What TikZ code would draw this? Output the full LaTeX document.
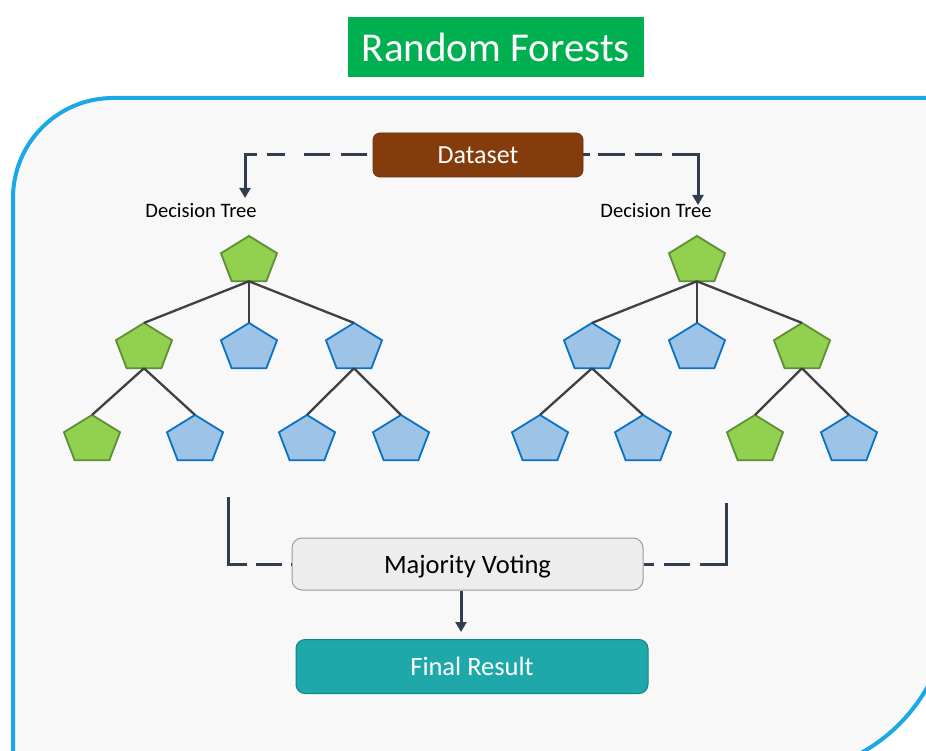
\documentclass[tikz,border=0pt]{standalone}
\usepackage{fontspec}
\setmainfont{Carlito}
\usetikzlibrary{shapes.geometric, arrows.meta}

\definecolor{framecyan}{HTML}{1BA8E6}
\definecolor{panelbg}{HTML}{F8F8F8}
\definecolor{titlegreen}{HTML}{00B050}
\definecolor{databrown}{HTML}{843C0C}
\definecolor{flowline}{HTML}{323E4F}
\definecolor{votefill}{HTML}{EDEDED}
\definecolor{voteline}{HTML}{9A9A9A}
\definecolor{resultteal}{HTML}{1FA8A9}
\definecolor{resultline}{HTML}{178586}
\definecolor{leafgreen}{HTML}{92D050}
\definecolor{leafgreenline}{HTML}{5E8F34}
\definecolor{leafblue}{HTML}{9DC3E6}
\definecolor{leafblueline}{HTML}{0A72C2}
\definecolor{branch}{HTML}{404040}

\begin{document}
\begin{tikzpicture}[x=1pt, y=1pt,
  pent/.style={regular polygon, regular polygon sides=5, minimum size=59pt,
    inner sep=0pt, outer sep=0pt, line width=1.8pt, yscale=0.85},
  gnode/.style={pent, fill=leafgreen, draw=leafgreenline},
  bnode/.style={pent, fill=leafblue, draw=leafblueline},
  edge/.style={draw=branch, line width=2.3pt},
  flow/.style={draw=flowline, line width=3pt},
  tip/.style={-{Triangle[width=11pt, length=10pt]}},
  label/.style={font=\fontsize{20.5}{24}\selectfont, text=black, inner sep=0pt},
]
\useasboundingbox (0,0) rectangle (926,-751);
\clip (0,0) rectangle (926,-751);
\fill[white] (0,0) rectangle (926,-751);

% rounded panel behind the diagram
\filldraw[fill=panelbg, draw=framecyan, line width=4pt]
  (13,-800) -- (13,-198) arc[start angle=180, end angle=90, radius=100pt]
  -- (949,-98) -- (949,-604) arc[start angle=0, end angle=-90, radius=170pt]
  -- (13,-774) -- cycle;

% title
\node[fill=titlegreen, text=white, minimum width=296pt, minimum height=60pt,
  inner sep=0pt, font=\fontsize{41}{48}\selectfont] (title) at (496,-47) {Random Forests};

% dataset
\node[fill=databrown, draw=databrown!80!black, line width=0.8pt, rounded corners=7pt,
  text=white, minimum width=210pt, minimum height=44pt, inner sep=0pt,
  font=\fontsize{26}{30}\selectfont] (ds) at (478,-155) {Dataset};

\coordinate (tipL) at (245,-198);
\coordinate (tipR) at (698,-205);
\draw[flow, tip, dash pattern=on 0pt off 6pt on 26pt off 11pt on 26pt off 19pt on 18pt off 10pt on 300pt]
  (ds.west) -| (tipL);
\draw[flow, tip, dash pattern=on 7pt off 8pt on 27pt off 10pt on 27pt off 10pt on 300pt]
  (ds.east) -| (tipR);

\node[label] (dtL) at (201,-211) {Decision Tree};
\node[label] (dtR) at (656,-211) {Decision Tree};

% left tree
\node[gnode] (L0)  at (249,-261) {};
\node[gnode] (L1a) at (144,-348) {};
\node[bnode] (L1b) at (249,-348) {};
\node[bnode] (L1c) at (354,-348) {};
\node[gnode] (L2a) at (92,-440)  {};
\node[bnode] (L2b) at (195,-440) {};
\node[bnode] (L2c) at (307,-440) {};
\node[bnode] (L2d) at (401,-440) {};

% right tree
\node[gnode] (R0)  at (697,-261) {};
\node[bnode] (R1a) at (592,-348) {};
\node[bnode] (R1b) at (697,-348) {};
\node[gnode] (R1c) at (802,-348) {};
\node[bnode] (R2a) at (540,-440) {};
\node[bnode] (R2b) at (643,-440) {};
\node[gnode] (R2c) at (755,-440) {};
\node[bnode] (R2d) at (849,-440) {};

% branches: from the base of each parent to the apex of each child
\foreach \p/\c in {L0/L1a, L0/L1b, L0/L1c, L1a/L2a, L1a/L2b, L1c/L2c, L1c/L2d,
                   R0/R1a, R0/R1b, R0/R1c, R1a/R2a, R1a/R2b, R1c/R2c, R1c/R2d}
  \draw[edge] (\p.side 3) -- (\c.corner 1);

% voting and result
\node[fill=votefill, draw=voteline, line width=1pt, rounded corners=10pt,
  minimum width=351pt, minimum height=52pt, inner sep=0pt, text depth=0pt,
  font=\fontsize{26.5}{30}\selectfont] (vote) at (467.5,-564) {Majority Voting};
\node[fill=resultteal, draw=resultline, line width=1pt, rounded corners=9pt,
  text=white, minimum width=352pt, minimum height=54pt, inner sep=0pt,
  font=\fontsize{26.5}{30}\selectfont] (res) at (472,-666.5) {Final Result};

\coordinate (outL) at (228,-497);
\coordinate (outR) at (726,-503);
\draw[flow, dash pattern=on 86pt off 9pt on 26pt off 9pt] (outL) |- (vote.west);
\draw[flow, dash pattern=on 87pt off 10pt on 26pt off 10pt on 30pt] (outR) |- (vote.east);

\draw[flow, tip] ([xshift=-6.5pt]vote.south) -- ([xshift=-11pt, yshift=7pt]res.north);
\end{tikzpicture}
\end{document}
